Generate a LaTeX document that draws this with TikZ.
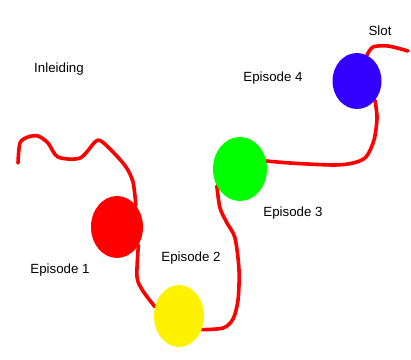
\documentclass[tikz,border=0pt]{standalone}
\usepackage{fontspec}
\setmainfont{Liberation Sans}
\usetikzlibrary{shapes.geometric,backgrounds}
\begin{document}
\begin{tikzpicture}[x=1pt,y=-1pt]

    \tikzset{
      episode/.style={
        ellipse,
        inner sep=0pt,
      },
      wire/.style={
        color=red,
        line width=3.6pt,
        line cap=round,
        line join=round,
      },
      label/.style={
        font=\fontsize{13.3}{15}\selectfont,
        inner sep=0pt,
      },
    }
    \useasboundingbox (0,0) rectangle (411,359);
	\node[episode,fill=red,minimum width=52pt,minimum height=62pt] (red) at (117,227) {};
	\node[episode,fill=yellow,minimum width=50pt,minimum height=62pt] (yellow) at (179,316) {};
	\node[episode,fill={rgb,255:red,0;green,255;blue,0},minimum width=54pt,minimum height=64pt] (green) at (240,169) {};
	\node[episode,fill={rgb,255:red,51;green,0;blue,255},minimum width=49pt,minimum height=56pt] (blue) at (357,81) {};
	\coordinate (start) at (18,163);
	\coordinate (end) at (408,51);
	\begin{scope}[on background layer]
	\draw[wire] plot[smooth] coordinates {(start) (20,143) (28,137) (38,136) (48,143) (58,157) (80,158) (95,142) (101,141) (113,152) (126,167) (133,182) (red.49)};
	\draw[wire] plot[smooth] coordinates {(red.-40) (137,277) (143,291) (yellow.159)};
	\draw[wire] plot[smooth] coordinates {(yellow.-31) (223,328) (233,319) (238,300) (239,270) (235,238) (227,223) (220,208) (green.216)};
	\draw[wire] plot[smooth] coordinates {(green.17) (290,163) (333,165) (353,163) (366,157) (374,140) (377,118) (blue.-47)};
	\draw[wire] plot[smooth] coordinates {(blue.69) (373,47) (388,46) (end)};
	\end{scope}
	\node[label] (inleiding) at (59,69) {Inleiding};
	\node[label] (ep1) at (60,270) {Episode 1};
	\node[label] (ep2) at (191,258) {Episode 2};
	\node[label] (ep3) at (293,213) {Episode 3};
	\node[label] (ep4) at (273,78) {Episode 4};
	\node[label] (slot) at (380,31) {Slot};

\end{tikzpicture}
\end{document}
